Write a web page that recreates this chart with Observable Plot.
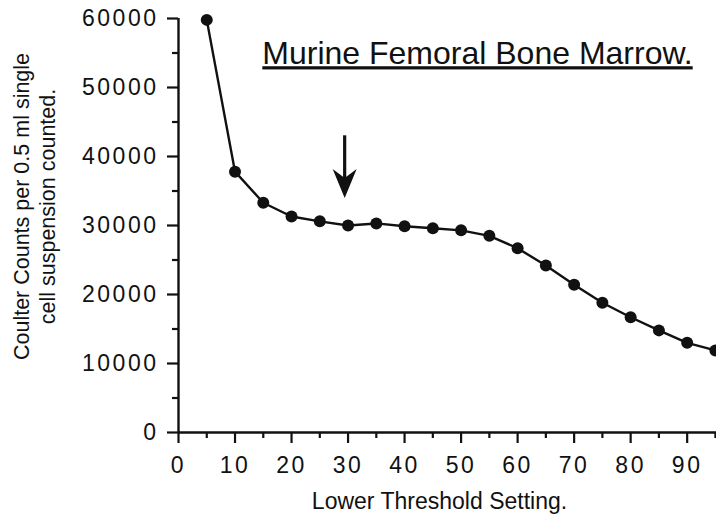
<!DOCTYPE html>
<html>
<head>
<meta charset="utf-8">
<script src="https://cdn.jsdelivr.net/npm/d3@7"></script>
<script src="https://cdn.jsdelivr.net/npm/@observablehq/plot@0.6"></script>
<style>
html, body { margin: 0; padding: 0; background: #fff; overflow: hidden; }
g[aria-label$="tick label"] text { letter-spacing: 2.5px; }
text.chart-title { text-decoration: underline; text-decoration-thickness: 2px; }
</style>
</head>
<body>
<div id="chart"></div>
<script>
// Data
const thresholds = [5, 10, 15, 20, 25, 30, 35, 40, 45, 50, 55, 60, 65, 70, 75, 80, 85, 90, 95];
const counts = [59800, 37800, 33300, 31300, 30600, 30000, 30300, 29900, 29600, 29300, 28500, 26700, 24200, 21400, 18800, 16700, 14800, 13000, 11900];

const xTicks = [0, 10, 20, 30, 40, 50, 60, 70, 80, 90];
const xMinorTicks = [5, 15, 25, 35, 45, 55, 65, 75, 85, 95];
const yTicks = [0, 10000, 20000, 30000, 40000, 50000, 60000];
const yMinorTicks = [5000, 15000, 25000, 35000, 45000, 55000];

const arrowX = [29.4];
const arrowTop = [43000];
const arrowNeck = [36500];
const arrowTip = [34000];

const titleText = "Murine Femoral Bone Marrow.";
const xLabelText = "Lower Threshold Setting.";
const yLabelText = "Coulter Counts per 0.5 ml single\ncell suspension counted.";

const data = thresholds.map((t, i) => ({threshold: t, count: counts[i]}));
const arrowData = arrowX.map((x, i) => ({x, top: arrowTop[i], neck: arrowNeck[i], tip: arrowTip[i]}));

const arrowHead = {
  draw(ctx, size) {
    const r = Math.sqrt(size / Math.PI);
    ctx.moveTo(0, 0);
    ctx.lineTo(-r, -2.4 * r);
    ctx.lineTo(0, -1.65 * r);
    ctx.lineTo(r, -2.4 * r);
    ctx.closePath();
  }
};

const ink = "#111";

const chart = Plot.plot({
  width: 716,
  height: 518,
  marginLeft: 178,
  marginRight: 0,
  marginTop: 18,
  marginBottom: 86,
  style: {fontFamily: "'Liberation Sans', Arial, Helvetica, sans-serif", color: ink, background: "#fff"},
  x: {domain: [0, 95.19], axis: null},
  y: {domain: [0, 60000], axis: null},
  marks: [
    Plot.axisX({ticks: xTicks, tickSize: 11, tickPadding: 13, tickFormat: d => String(d), fontSize: 23, strokeWidth: 2.2, stroke: ink, fill: ink, label: null}),
    Plot.axisX({ticks: xMinorTicks, tickSize: 6, tickFormat: () => "", strokeWidth: 2.2, stroke: ink, label: null}),
    Plot.axisY({ticks: yTicks, tickSize: 11, tickPadding: 9, tickFormat: d => String(d), fontSize: 23, strokeWidth: 2.2, stroke: ink, fill: ink, label: null}),
    Plot.axisY({ticks: yMinorTicks, tickSize: 6, tickFormat: () => "", strokeWidth: 2.2, stroke: ink, label: null}),
    Plot.ruleX([0], {stroke: ink, strokeWidth: 2.4}),
    Plot.ruleY([0], {stroke: ink, strokeWidth: 2.4}),
    Plot.line(data, {x: "threshold", y: "count", stroke: ink, strokeWidth: 2.4}),
    Plot.dot(data, {x: "threshold", y: "count", r: 6, fill: ink, stroke: "none"}),
    Plot.ruleX(arrowData, {x: "x", y1: "top", y2: "neck", stroke: ink, strokeWidth: 3.2}),
    Plot.dot(arrowData, {x: "x", y: "tip", r: 12, symbol: arrowHead, fill: ink, stroke: "none"}),
    Plot.text([titleText], {frameAnchor: "top", lineAnchor: "top", dx: 30, dy: 23, fontSize: 32, fill: ink}),
    Plot.text([xLabelText], {frameAnchor: "bottom", lineAnchor: "top", dx: -8, dy: 60, fontSize: 23, fill: ink}),
    Plot.text([yLabelText], {frameAnchor: "left", rotate: -90, textAnchor: "middle", lineAnchor: "middle", lineHeight: 1.24, dx: -145, dy: -19, fontSize: 21.5, fill: ink})
  ]
});

chart.querySelectorAll("text").forEach(t => {
  if (t.textContent === titleText) t.classList.add("chart-title");
});

document.getElementById("chart").appendChild(chart);
</script>
</body>
</html>
